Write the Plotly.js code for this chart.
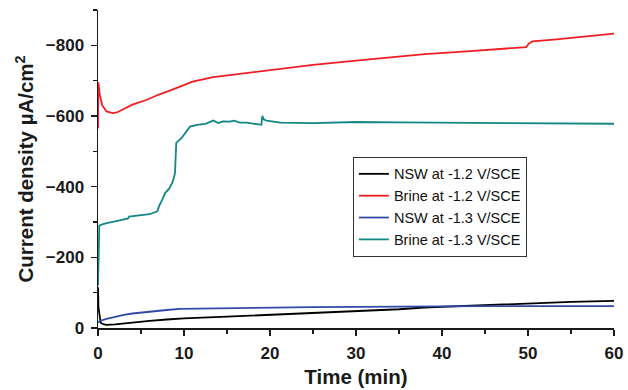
<!DOCTYPE html>
<html>
<head>
<meta charset="utf-8">
<script src="https://cdn.plot.ly/plotly-3.0.1.min.js"></script>
<style>html,body{margin:0;padding:0;background:#fff;}#chart{width:628px;height:390px;}</style>
</head>
<body>
<div id="chart"></div>
<script>
// NSW at -1.2 V/SCE
const nsw12Time = [0, 0.05, 0.3, 0.7, 1, 2, 4, 5, 6, 8, 10, 15, 20, 25, 30, 35, 38, 40, 45, 50, 55, 60];
const nsw12Val  = [-115, -60, -15, -10, -9, -10, -15, -18, -20, -24, -27, -32, -37, -41, -46, -53, -58, -60, -65, -70, -74, -77];
// Brine at -1.2 V/SCE
const brine12Time = [0, 0.03, 0.08, 0.2, 0.5, 1, 1.7, 2.2, 3, 4, 5.7, 7, 8.5, 9.5, 11, 13.4, 15, 17.3, 21.2, 25, 30, 35.1, 38, 42.9, 46, 49.8, 50.1, 50.5, 53, 56, 60];
const brine12Val  = [-565, -695, -688, -660, -630, -613, -608, -610, -620, -632, -646, -660, -673, -683, -697, -710, -715, -723, -735, -745, -757, -769, -775, -783, -789, -795, -805, -811, -816, -823, -833];
// NSW at -1.3 V/SCE
const nsw13Time = [0, 0.2, 1, 2, 3, 4, 5, 6, 8, 9.5, 12, 15, 20, 25, 30, 35, 38, 40, 45, 50, 55, 57, 60];
const nsw13Val  = [-15, -20, -26, -32, -37, -41, -44, -47, -51, -54, -55, -57, -58, -59, -60, -61, -62, -62, -62, -62, -62, -64, -62];
// Brine at -1.3 V/SCE
const brine13Time = [0, 0.05, 0.15, 0.5, 1, 2, 3, 3.5, 3.6, 5, 6, 6.9, 7.1, 7.5, 7.8, 8.3, 8.7, 8.95, 9.1, 9.7, 10.3, 10.7, 11.5, 12.5, 13.4, 14, 14.5, 15.3, 15.8, 16.5, 17.3, 18, 19.0, 19.1, 19.3, 19.6, 21.2, 25, 30, 35, 40, 45, 50, 55, 60];
const brine13Val  = [-120, -250, -290, -293, -297, -302, -307, -310, -315, -318, -322, -330, -345, -365, -382, -395, -415, -438, -524, -537, -556, -570, -575, -578, -587, -580, -585, -584, -587, -581, -581, -578, -575, -600, -590, -587, -581, -580, -583, -582, -581, -580, -580, -579, -578];

const seriesNames = ['NSW at -1.2 V/SCE', 'Brine at -1.2 V/SCE', 'NSW at -1.3 V/SCE', 'Brine at -1.3 V/SCE'];
const colors = ['#000000', '#ee1d23', '#3349a8', '#128783'];

const xs = [nsw12Time, brine12Time, nsw13Time, brine13Time];
const ys = [nsw12Val, brine12Val, nsw13Val, brine13Val];

const traces = xs.map((x, i) => ({
  x: x, y: ys[i], name: seriesNames[i], type: 'scatter', mode: 'lines',
  line: {color: colors[i], width: 1.8}
}));

const tickFont = {family: 'Liberation Sans, Arial, sans-serif', size: 17, color: '#1a1a1a', weight: 'bold'};
const titleFont = {family: 'Liberation Sans, Arial, sans-serif', size: 20.5, color: '#1a1a1a', weight: 'bold'};

const layout = {
  width: 628, height: 390,
  margin: {l: 98, r: 14, t: 10, b: 62},
  paper_bgcolor: '#ffffff', plot_bgcolor: '#ffffff',
  showlegend: true,
  legend: {
    x: 0.494, y: 0.538, xanchor: 'left', yanchor: 'top',
    bordercolor: '#333333', borderwidth: 1, bgcolor: '#ffffff',
    font: {family: 'Liberation Sans, Arial, sans-serif', size: 14.5, color: '#111111'},
    tracegroupgap: 0, entrywidth: 190, entrywidthmode: 'pixels'
  },
  xaxis: {
    range: [0, 60], showgrid: false, zeroline: false,
    showline: true, linecolor: '#1a1a1a', linewidth: 1.5,
    ticks: 'outside', ticklen: 6, tickwidth: 1.5, tickcolor: '#1a1a1a',
    tick0: 0, dtick: 10, tickfont: tickFont, ticklabelstandoff: 3,
    minor: {dtick: 5, ticks: 'outside', ticklen: 4, tickwidth: 1.2, tickcolor: '#1a1a1a', showgrid: false},
    title: {text: 'Time (min)', font: titleFont, standoff: 7}
  },
  yaxis: {
    range: [0, -900], showgrid: false, zeroline: false,
    showline: true, linecolor: '#1a1a1a', linewidth: 1.5,
    ticks: 'outside', ticklen: 6, tickwidth: 1.5, tickcolor: '#1a1a1a',
    tick0: 0, dtick: 200, tickfont: tickFont, ticklabelstandoff: 3,
    minor: {dtick: 100, ticks: 'outside', ticklen: 4, tickwidth: 1.2, tickcolor: '#1a1a1a', showgrid: false},
    title: {text: 'Current density µA/cm<sup>2</sup>', font: titleFont, standoff: 6}
  }
};

Plotly.newPlot('chart', traces, layout, {staticPlot: true, displayModeBar: false});
</script>
</body>
</html>
